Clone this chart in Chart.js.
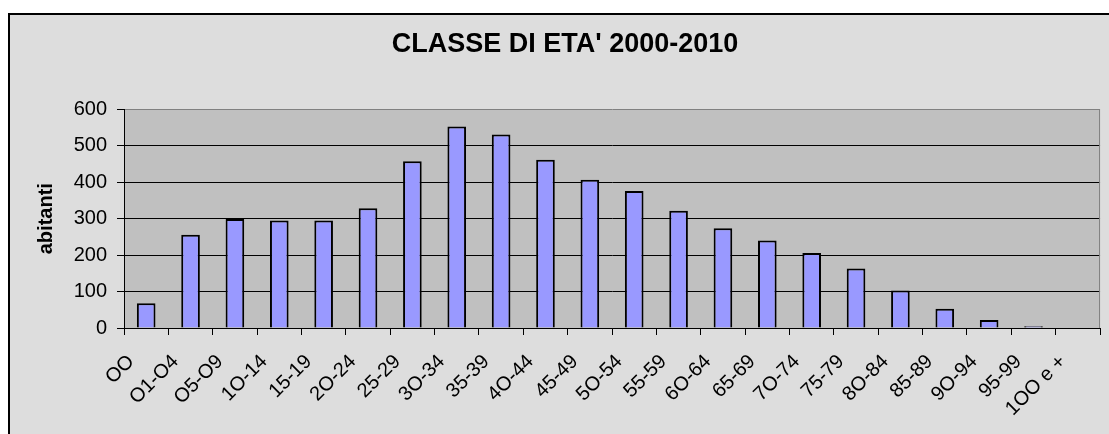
<!DOCTYPE html>
<html>
<head>
<meta charset="utf-8">
<script src="https://cdn.jsdelivr.net/npm/chart.js@4/dist/chart.umd.min.js"></script>
<style>
  html, body { margin: 0; padding: 0; background: #ffffff; overflow: hidden; }
  #frame {
    position: absolute; left: 8px; top: 13px;
    width: 1110px; height: 430px;
    border-left: 2px solid #000; border-top: 2px solid #000;
    background: #dddddd;
  }
  #grafico { display: block; }
</style>
</head>
<body>
<div id="frame"><canvas id="grafico" width="1100" height="420"></canvas></div>
<script>
// classi di eta' (la "O" e' quella del grafico originale)
const classi = ['OO', 'O1-O4', 'O5-O9', '1O-14', '15-19', '2O-24', '25-29', '3O-34', '35-39',
  '4O-44', '45-49', '5O-54', '55-59', '6O-64', '65-69', '7O-74', '75-79', '8O-84',
  '85-89', '9O-94', '95-99', '1OO e +'];
const abitanti = [68, 256, 299, 295, 295, 329, 458, 553, 531, 462, 407, 376, 322, 274,
  240, 206, 163, 103, 53, 22, 5, 0];
const yMin = 0;
const yMax = 600;
const yPasso = 100;

const font = 'Liberation Sans, Arial, sans-serif';

// sfondo grigio dell'area del grafico + bordo destro
const sfondoPlot = {
  id: 'sfondoPlot',
  beforeDraw(chart) {
    const a = chart.chartArea, c = chart.ctx;
    c.save();
    c.fillStyle = '#c0c0c0';
    c.fillRect(a.left, a.top, a.right - a.left, a.bottom - a.top);
    c.restore();
  },
  beforeDatasetsDraw(chart) {
    const a = chart.chartArea, c = chart.ctx;
    c.save();
    c.strokeStyle = '#808080';
    c.lineWidth = 1;
    c.beginPath();
    c.moveTo(a.right - 0.5, a.top);
    c.lineTo(a.right - 0.5, a.bottom);
    c.stroke();
    c.restore();
  }
};

const ctx = document.getElementById('grafico').getContext('2d');
new Chart(ctx, {
  type: 'bar',
  data: {
    labels: classi,
    datasets: [{
      label: 'abitanti',
      data: abitanti,
      backgroundColor: '#9999ff',
      borderColor: '#000000',
      borderWidth: 2,
      barPercentage: 0.42,
      categoryPercentage: 1
    }]
  },
  options: {
    responsive: false,
    animation: false,
    devicePixelRatio: 1,
    layout: { padding: { left: 17, right: 7, top: 0, bottom: 0 } },
    plugins: {
      legend: { display: false },
      tooltip: { enabled: false },
      title: {
        display: true,
        text: "CLASSE DI ETA' 2000-2010",
        color: '#000',
        font: { family: font, size: 27, weight: 'bold' },
        padding: { top: 13, bottom: 49 }
      }
    },
    scales: {
      x: {
        grid: {
          offset: true,
          drawOnChartArea: false,
          drawTicks: true,
          tickLength: 7,
          tickColor: '#000',
          color: '#000'
        },
        border: { color: '#000', width: 1 },
        ticks: {
          color: '#000',
          font: { family: font, size: 20 },
          minRotation: 45,
          maxRotation: 45,
          autoSkip: false,
          padding: 15,
          labelOffset: -15
        },
        afterFit(scale) { scale.height = 107; }
      },
      y: {
        min: yMin,
        max: yMax,
        ticks: {
          stepSize: yPasso,
          color: '#000',
          font: { family: font, size: 20 },
          padding: 10
        },
        grid: {
          color: c => (c.tick && c.tick.value === yMax) ? '#808080' : '#000',
          tickColor: '#000',
          tickLength: 7,
          lineWidth: 1
        },
        border: { color: '#000', width: 1 },
        title: {
          display: true,
          text: 'abitanti',
          color: '#000',
          font: { family: font, size: 20, weight: 'bold' },
          padding: { top: 7, bottom: 0 }
        },
        afterFit(scale) { scale.width = 97; }
      }
    }
  },
  plugins: [sfondoPlot]
});
</script>
</body>
</html>
